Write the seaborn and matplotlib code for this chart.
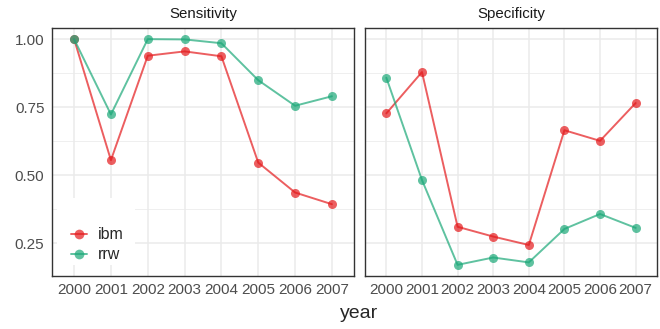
import matplotlib
matplotlib.use("Agg")
import matplotlib.pyplot as plt
from matplotlib.ticker import MultipleLocator
from matplotlib.lines import Line2D
from matplotlib.patches import Rectangle
import seaborn as sns
import pandas as pd

years = [2000, 2001, 2002, 2003, 2004, 2005, 2006, 2007]
models = ["ibm", "rrw"]
sens_ibm = [1.00, 0.555, 0.939, 0.955, 0.937, 0.546, 0.436, 0.393]
sens_rrw = [1.00, 0.723, 1.00, 0.999, 0.985, 0.849, 0.755, 0.790]
spec_ibm = [0.727, 0.879, 0.310, 0.274, 0.243, 0.665, 0.626, 0.765]
spec_rrw = [0.858, 0.482, 0.170, 0.197, 0.179, 0.302, 0.357, 0.306]
panels = ["Sensitivity", "Specificity"]

rows = []
for panel, vi, vr in [("Sensitivity", sens_ibm, sens_rrw), ("Specificity", spec_ibm, spec_rrw)]:
    for m, vals in zip(models, [vi, vr]):
        for y, v in zip(years, vals):
            rows.append({"panel": panel, "model": m, "year": y, "value": v})
df = pd.DataFrame(rows)

sns.set_style("white")
plt.rcParams["font.family"] = ["Liberation Sans", "DejaVu Sans"]

palette = {"ibm": "#E41A1C", "rrw": "#1BA878"}

fig = plt.figure(figsize=(6.6, 3.29), dpi=100)
W, H = 660, 329
axes = []
for (l, r) in [(52, 354), (365, 657)]:
    ax = fig.add_axes([l / W, 1 - 276 / H, (r - l) / W, (276 - 28) / H])
    axes.append(ax)

for ax, panel in zip(axes, panels):
    sub = df[df["panel"] == panel]
    sns.lineplot(data=sub, x="year", y="value", hue="model", palette=palette,
                 marker="o", markersize=6.5, markeredgewidth=0, linewidth=1.4,
                 alpha=0.7, ax=ax, legend=False, zorder=3)
    ax.set_xlim(1999.4, 2007.6)
    ax.set_ylim(0.129, 1.041)
    ax.yaxis.set_major_locator(MultipleLocator(0.25))
    ax.yaxis.set_minor_locator(MultipleLocator(0.125))
    ax.set_xticks(years)
    ax.set_xticklabels([str(y) for y in years])
    ax.grid(True, which="major", color="#EBEBEB", linewidth=1.1, zorder=0)
    ax.grid(True, which="minor", axis="y", color="#EBEBEB", linewidth=0.55, zorder=0)
    ax.set_axisbelow(True)
    for s in ax.spines.values():
        s.set_visible(True)
        s.set_color("#333333")
        s.set_linewidth(1.0)
    ax.tick_params(axis="both", which="major", length=3.2, width=1.0, color="#333333",
                   labelsize=11, labelcolor="#4D4D4D", pad=2.2)
    ax.tick_params(axis="y", which="minor", length=0)
    ax.set_xlabel("")
    ax.set_ylabel("")
    ax.set_title(panel, fontsize=10.8, color="#1A1A1A", pad=7)

axes[1].tick_params(axis="y", which="both", left=False, labelleft=False)
axes[0].yaxis.set_major_formatter(matplotlib.ticker.FormatStrFormatter("%.2f"))

# white legend background box (covers grid like ggplot legend.background)
axes[0].add_patch(Rectangle((0.0166, 0.044), 0.2584, 0.271, transform=axes[0].transAxes,
                            facecolor="white", edgecolor="none", zorder=1.5))

handles = [Line2D([0], [0], color=palette[m], marker="o", markersize=7,
                  markeredgewidth=0, linewidth=1.4, alpha=0.7) for m in models]
leg = axes[0].legend(handles, models, loc="lower left", bbox_to_anchor=(0.063, 0.056),
                     frameon=False, fontsize=11.5, handlelength=1.0, handletextpad=0.65,
                     labelspacing=0.3, borderpad=0, borderaxespad=0)
leg.set_zorder(5)

fig.text((354 + 365) / 2 / W, 1 - 314 / H, "year", ha="center", va="center", fontsize=14)

fig.savefig("out.png", dpi=100)
